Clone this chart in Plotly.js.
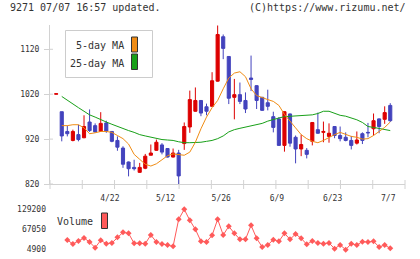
<!DOCTYPE html>
<html>
<head>
<meta charset="utf-8">
<script src="https://cdn.plot.ly/plotly-3.0.1.min.js"></script>
<style>
  html, body { margin: 0; padding: 0; background: #ffffff; }
  #chart { width: 420px; height: 259px; }
</style>
</head>
<body>
<div id="chart"></div>
<script>
// Daily OHLC for code 9271 (oldest first)
const openPrice  = [1020, 981, 937, 917, 930, 923, 958, 950, 937, 956, 937, 917, 900, 869, 857, 846, 855, 884, 895, 907,
                    899, 880, 889, 910, 947, 982, 1006, 992, 993, 1049, 1148, 1104, 1013, 1019, 1006, 1056, 1039, 1013, 1001, 970,
                    965, 906, 976, 924, 898, 895, 915, 941, 935, 926, 948, 928, 924, 917, 911, 932, 935, 943, 965, 964, 995];
const highPrice  = [1021, 981, 950, 941, 952, 973, 986, 955, 980, 961, 938, 926, 904, 870, 874, 867, 887, 908, 919, 911,
                    900, 899, 896, 957, 1028, 1035, 1007, 999, 1069, 1173, 1153, 1105, 1054, 1046, 1024, 1106, 1040, 1014, 1030, 981,
                    969, 982, 977, 928, 930, 900, 958, 979, 959, 955, 949, 948, 935, 927, 937, 935, 956, 977, 966, 993, 1000];
const lowPrice   = [1020, 915, 926, 915, 915, 922, 936, 935, 936, 934, 913, 894, 856, 837, 850, 845, 853, 884, 894, 886,
                    879, 879, 818, 896, 934, 981, 971, 973, 992, 1048, 1098, 998, 964, 998, 978, 1027, 987, 983, 984, 935,
                    905, 892, 903, 866, 882, 877, 906, 932, 913, 912, 922, 915, 915, 897, 908, 909, 924, 928, 933, 954, 958];
const closePrice = [1021, 927, 932, 937, 919, 948, 939, 936, 955, 938, 915, 902, 864, 854, 854, 857, 882, 889, 913, 891,
                    880, 889, 838, 948, 1008, 1006, 978, 982, 1050, 1153, 1122, 1011, 1019, 1004, 987, 1053, 1006, 984, 993, 946,
                    906, 981, 911, 898, 908, 886, 957, 933, 937, 933, 928, 921, 917, 906, 918, 917, 934, 961, 948, 979, 961];

// Moving averages
const ma5  = [null, 950, 950, 952, 952, 945, 932, 934, 937, 937, 935, 928, 921, 909, 886, 875, 864, 860, 865, 874,
              883, 887, 885, 884, 891, 913, 943, 969, 990, 1006, 1032, 1056, 1067, 1070, 1059, 1032, 1017, 1012, 1008, 1004,
              995, 975, 961, 945, 930, 921, 915, 912, 917, 924, 930, 935, 930, 926, 924, 920, 921, 928, 937, 946, 958];
const ma25 = [null, 1015, 1006, 998, 990, 982, 974, 969, 963, 958, 953, 948, 944, 939, 935, 930, 927, 924, 921, 919,
              918, 917, 914, 912, 912, 912, 913, 915, 917, 921, 927, 936, 941, 944, 947, 949, 952, 955, 960, 964,
              967, 970, 971, 972, 972, 973, 974, 977, 982, 982, 977, 973, 971, 967, 963, 957, 948, 946, 944, 941, 939];

// Daily volume (shares)
const volume = [null, null, 34700, 22400, 31600, 40900, 28500, 11100, 33700, 23400, 25500, 42900, 58300, 55200, 24400, 24400, 23400, 50100, 28500, 22400,
                19300, 15200, 98400, 129200, 95300, 67600, 30600, 28500, 49100, 98400, 50100, 76800, 55200, 36700, 36700, 79900, 39800, 13100, 19300, 35700,
                30600, 55200, 36700, 53200, 39800, 21300, 31600, 25500, 23400, 25500, 8000, 19300, 4900, 23400, 19300, 29600, 28500, 30600, 13100, 19300, 9000];

// Date labels and the bars they sit under
const tickLabels = ['4/22', '5/12', '5/26', '6/9', '6/23', '7/7'];
const tickBars   = [10, 20, 30, 40, 50, 60];
const priceTicks = [820, 920, 1020, 1120];

const barIndex = closePrice.map((_, i) => i);

const UP = '#dd0000', DOWN = '#4343bd';
const MA5_COLOR = '#f08c14', MA25_COLOR = '#18a018', VOL_COLOR = '#ff5a5a';
const AXIS = '#d2d2d2', TEXT = '#333333';
const FONT = 'DejaVu Sans Mono, monospace';

const W = 420, H = 259;
const px = v => v / W;          // horizontal pixel -> paper
const py = v => 1 - v / H;      // vertical pixel -> paper

// plot frame in pixels
const LEFT = 50, RIGHT = 405, TOP = 25, BASE = 184;
const xRange = [-1.11, 62.65];

const vMin = Math.min(...volume.filter(v => v !== null));
const vMax = Math.max(...volume.filter(v => v !== null));
const vMid = (vMin + vMax) / 2;
const vPad = (vMax - vMin) * 0.1074;

const traces = [
  {
    type: 'candlestick', x: barIndex,
    open: openPrice, high: highPrice, low: lowPrice, close: closePrice,
    increasing: { line: { color: UP, width: 1 }, fillcolor: UP },
    decreasing: { line: { color: DOWN, width: 1 }, fillcolor: DOWN },
    whiskerwidth: 0, hoverinfo: 'skip', xaxis: 'x', yaxis: 'y'
  },
  {
    type: 'scatter', mode: 'lines', x: barIndex, y: ma25,
    line: { color: MA25_COLOR, width: 1 }, hoverinfo: 'skip', xaxis: 'x', yaxis: 'y'
  },
  {
    type: 'scatter', mode: 'lines', x: barIndex, y: ma5,
    line: { color: MA5_COLOR, width: 1 }, hoverinfo: 'skip', xaxis: 'x', yaxis: 'y'
  },
  {
    type: 'scatter', mode: 'lines+markers', x: barIndex, y: volume,
    line: { color: VOL_COLOR, width: 1 },
    marker: { symbol: 'diamond', size: 4.6, color: VOL_COLOR, line: { width: 0 } },
    hoverinfo: 'skip', xaxis: 'x2', yaxis: 'y2'
  }
];

// Tick marks that cross the axis lines: the bottom axis is split into 11 equal steps,
// the price axis gets a short inner stub at each labelled price.
const crossTicks = [];
for (let i = 0; i <= 11; i++) {
  const xp = LEFT + (RIGHT - LEFT) * i / 11;
  crossTicks.push({ type: 'line', xref: 'paper', yref: 'paper',
    x0: px(xp), x1: px(xp), y0: py(BASE - 4), y1: py(BASE + 5),
    line: { color: AXIS, width: 1 }, layer: 'below' });
}
priceTicks.forEach(p => crossTicks.push({ type: 'line', xref: 'paper', yref: 'y',
  x0: px(LEFT), x1: px(LEFT + 3), y0: p, y1: p,
  line: { color: AXIS, width: 1 }, layer: 'below' }));

const layout = {
  width: W, height: H,
  margin: { l: 0, r: 0, t: 0, b: 0 },
  paper_bgcolor: '#ffffff', plot_bgcolor: '#ffffff',
  showlegend: false,
  font: { family: FONT, size: 8, color: TEXT },
  boxgap: 0.2,
  xaxis: {
    domain: [px(LEFT), px(RIGHT)], anchor: 'y', range: xRange,
    showline: true, linecolor: AXIS, linewidth: 1,
    showgrid: false, zeroline: false,
    tickmode: 'array', tickvals: tickBars, ticktext: tickLabels,
    ticks: '', tickfont: { family: FONT, size: 8, color: TEXT },
    ticklabelstandoff: 6, ticklabelshift: -2,
    rangeslider: { visible: false }, fixedrange: true
  },
  yaxis: {
    domain: [py(BASE), py(TOP)], anchor: 'x', range: [820, 1174.1],
    showline: true, linecolor: AXIS, linewidth: 1,
    showgrid: false, zeroline: false,
    tickmode: 'array', tickvals: priceTicks, ticktext: priceTicks.map(String),
    ticks: 'outside', ticklen: 5, tickcolor: AXIS, tickwidth: 1,
    tickfont: { family: FONT, size: 8, color: TEXT },
    ticklabelstandoff: 3, fixedrange: true
  },
  xaxis2: {
    domain: [px(LEFT), px(RIGHT)], anchor: 'y2', range: xRange,
    visible: false, fixedrange: true
  },
  yaxis2: {
    domain: [py(254), py(205)], anchor: 'x2', range: [vMin - vPad, vMax + vPad],
    showline: false, showgrid: false, zeroline: false,
    tickmode: 'array', tickvals: [vMin, vMid, vMax], ticktext: [vMin, vMid, vMax].map(String),
    ticks: '', tickfont: { family: FONT, size: 8, color: TEXT },
    ticklabelstandoff: 3, fixedrange: true
  },
  shapes: crossTicks.concat([
    // moving-average legend frame and swatches
    { type: 'rect', xref: 'paper', yref: 'paper', x0: px(65.5), x1: px(152.5), y0: py(77.5), y1: py(30.5),
      line: { color: '#cccccc', width: 1 }, fillcolor: '#ffffff', layer: 'above' },
    { type: 'rect', xref: 'paper', yref: 'paper', x0: px(131.5), x1: px(137.5), y0: py(52), y1: py(37),
      line: { color: '#333333', width: 1 }, fillcolor: MA5_COLOR, layer: 'above' },
    { type: 'rect', xref: 'paper', yref: 'paper', x0: px(131.5), x1: px(137.5), y0: py(69.5), y1: py(54),
      line: { color: '#333333', width: 1 }, fillcolor: MA25_COLOR, layer: 'above' },
    // volume legend swatch
    { type: 'rect', xref: 'paper', yref: 'paper', x0: px(101.5), x1: px(107.5), y0: py(228.5), y1: py(213),
      line: { color: '#333333', width: 1 }, fillcolor: VOL_COLOR, layer: 'above' }
  ]),
  annotations: [
    { text: '9271 07/07 16:57 updated.', xref: 'paper', yref: 'paper', x: px(8), y: py(7.5),
      xanchor: 'left', yanchor: 'middle', showarrow: false, font: { family: FONT, size: 10, color: TEXT } },
    { text: '(C)https://www.rizumu.net/', xref: 'paper', yref: 'paper', x: px(407.5), y: py(7.5),
      xanchor: 'right', yanchor: 'middle', showarrow: false, font: { family: FONT, size: 10, color: TEXT } },
    { text: '5-day MA', xref: 'paper', yref: 'paper', x: px(125.5), y: py(46),
      xanchor: 'right', yanchor: 'middle', showarrow: false, font: { family: FONT, size: 10, color: TEXT } },
    { text: '25-day MA', xref: 'paper', yref: 'paper', x: px(125.5), y: py(63.5),
      xanchor: 'right', yanchor: 'middle', showarrow: false, font: { family: FONT, size: 10, color: TEXT } },
    { text: 'Volume', xref: 'paper', yref: 'paper', x: px(94.5), y: py(221.5),
      xanchor: 'right', yanchor: 'middle', showarrow: false, font: { family: FONT, size: 10, color: TEXT } }
  ]
};

Plotly.newPlot('chart', traces, layout, { displayModeBar: false, staticPlot: true });
</script>
</body>
</html>
